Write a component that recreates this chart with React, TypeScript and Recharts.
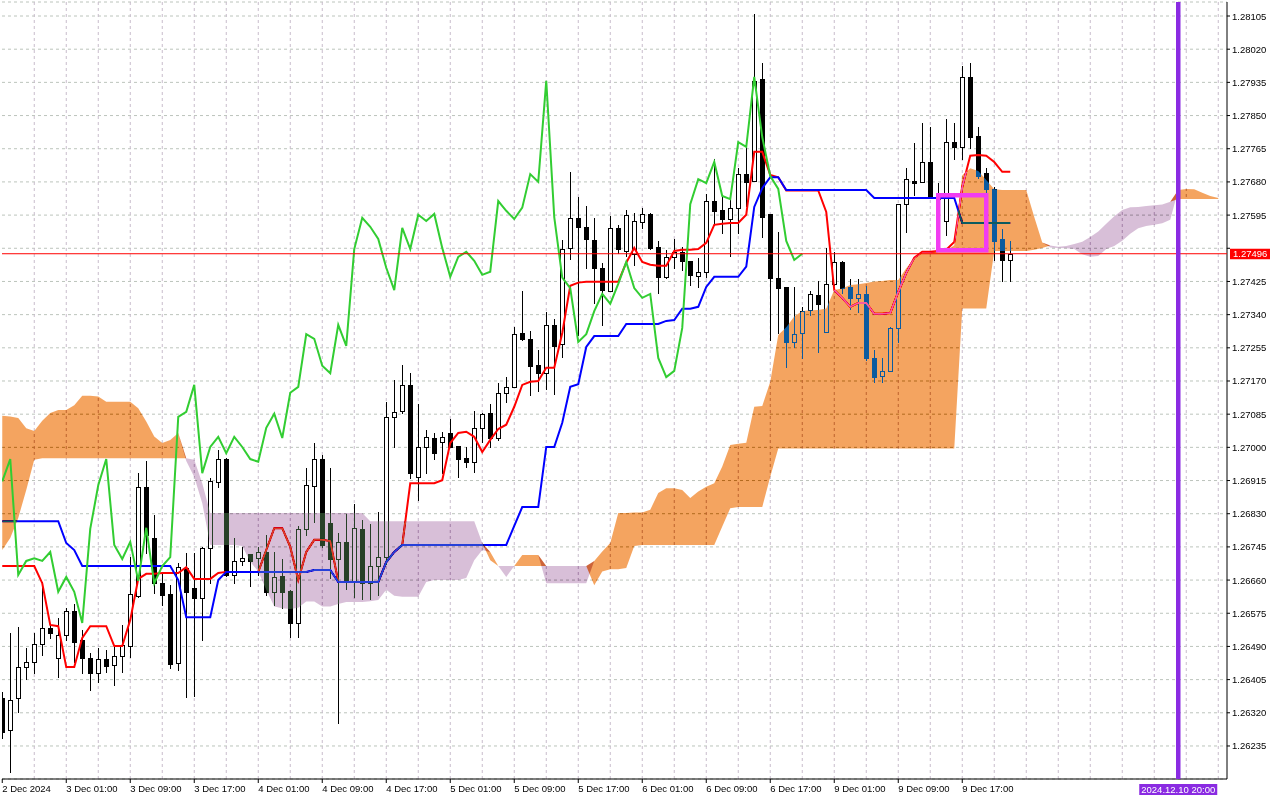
import React from 'react';
import {
  ComposedChart,
  Bar,
  Line,
  Area,
  XAxis,
  YAxis,
  CartesianGrid,
  ReferenceLine,
  ReferenceArea,
} from 'recharts';

const FONT = '"Liberation Sans", Arial, sans-serif';

// ---- time axis ----
const timeTicks = [0, 8, 16, 24, 32, 40, 48, 56, 64, 72, 80, 88, 96, 104, 112, 120];
const timeLabels = [
  '2 Dec 2024', '3 Dec 01:00', '3 Dec 09:00', '3 Dec 17:00', '4 Dec 01:00', '4 Dec 09:00',
  '4 Dec 17:00', '5 Dec 01:00', '5 Dec 09:00', '5 Dec 17:00', '6 Dec 01:00', '6 Dec 09:00',
  '6 Dec 17:00', '9 Dec 01:00', '9 Dec 09:00', '9 Dec 17:00',
];
const gridBars = [
  4, 8, 12, 16, 20, 24, 28, 32, 36, 40, 44, 48, 52, 56, 60, 64, 68, 72, 76, 80, 84, 88, 92, 96,
  100, 104, 108, 112, 116, 120, 124, 128, 132, 136, 140, 144, 148, 152,
];
const priceTicks = [
  1.26235, 1.2632, 1.26405, 1.2649, 1.26575, 1.2666, 1.26745, 1.2683, 1.26915, 1.27, 1.27085,
  1.2717, 1.27255, 1.2734, 1.27425, 1.2751, 1.27595, 1.2768, 1.27765, 1.2785, 1.27935, 1.2802,
  1.28105,
];
const HIDDEN_PRICE_LABEL = 1.2751;
const BID = 1.27496;
const CURSOR_BAR = 147;
const CURSOR_LABEL = '2024.12.10 20:00';
const BOX_BARS = [117, 123];
const BOX_PRICES = [1.27505, 1.27646];

// ---- candles (H1, bar 0 = 2 Dec 17:00) ----
const opens = [
  1.26358, 1.26276, 1.26358, 1.26437, 1.2645, 1.26496, 1.26538, 1.26461, 1.26519, 1.2658,
  1.26506, 1.26461, 1.26422, 1.26458, 1.26442, 1.26466, 1.26491, 1.2662, 1.26898, 1.26768,
  1.26652, 1.26625, 1.26448, 1.26691, 1.2664, 1.26614, 1.26743, 1.26911, 1.2697, 1.26673,
  1.26709, 1.26727, 1.26716, 1.26732, 1.2663, 1.2667, 1.26632, 1.2655, 1.26791, 1.26901,
  1.2697, 1.26806, 1.26714, 1.26758, 1.26658, 1.26791, 1.26652, 1.26696, 1.26719, 1.27078,
  1.27093, 1.2716, 1.26924, 1.27001, 1.27024, 1.27014, 1.27037, 1.27004, 1.26973, 1.26963,
  1.2705, 1.27088, 1.27024, 1.2714, 1.27155, 1.27293, 1.27278, 1.27211, 1.2719, 1.27314,
  1.27265, 1.27511, 1.27588, 1.27565, 1.27531, 1.2746, 1.27401, 1.27562, 1.27503, 1.27496,
  1.27578, 1.27598, 1.27514, 1.27437, 1.27488, 1.27501, 1.27478, 1.2744, 1.2745, 1.27631,
  1.27608, 1.27585, 1.27614, 1.277, 1.27682, 1.27944, 1.27598, 1.27435, 1.27411, 1.2727,
  1.27293, 1.27352, 1.27391, 1.27296, 1.27419, 1.27475, 1.27411, 1.27383, 1.27393, 1.27229,
  1.27183, 1.27196, 1.27306, 1.27623, 1.27682, 1.2768, 1.27731, 1.27644, 1.2758, 1.27782,
  1.2777, 1.27949, 1.27798, 1.27703, 1.27662, 1.27534, 1.2748,
];
const highs = [
  1.26373, 1.26524, 1.2654, 1.26486, 1.26524, 1.26655, 1.26545, 1.26563, 1.26589, 1.26599,
  1.26532, 1.26473, 1.26486, 1.26481, 1.26493, 1.26545, 1.26719, 1.26934, 1.26965, 1.26827,
  1.26681, 1.26647, 1.26703, 1.26729, 1.26729, 1.26745, 1.26922, 1.26993, 1.26973, 1.26768,
  1.26745, 1.26727, 1.26745, 1.26775, 1.26732, 1.26714, 1.26635, 1.26799, 1.26947, 1.27011,
  1.2698, 1.26947, 1.26781, 1.2683, 1.26855, 1.26814, 1.26804, 1.26835, 1.27116, 1.27173,
  1.27211, 1.2719, 1.27111, 1.27045, 1.27037, 1.2704, 1.27073, 1.27004, 1.27001, 1.27093,
  1.27088, 1.27111, 1.27165, 1.2718, 1.27308, 1.27401, 1.27298, 1.2725, 1.27347, 1.27329,
  1.27531, 1.27706, 1.27642, 1.27618, 1.27588, 1.27473, 1.27593, 1.2757, 1.27608, 1.27601,
  1.27613, 1.27601, 1.27529, 1.27506, 1.27534, 1.27514, 1.27478, 1.27485, 1.27649, 1.27739,
  1.27642, 1.27642, 1.27716, 1.2777, 1.2811, 1.27985, 1.27598, 1.27552, 1.27411, 1.27411,
  1.2736, 1.27401, 1.27427, 1.27511, 1.27501, 1.27478, 1.27432, 1.27432, 1.27414, 1.2725,
  1.27229, 1.27308, 1.27623, 1.27716, 1.2778, 1.27831, 1.27821, 1.27677, 1.27841, 1.27831,
  1.27977, 1.27985, 1.27821, 1.27716, 1.27667, 1.2756, 1.27529,
];
const lows = [
  1.26256, 1.26168, 1.26322, 1.26407, 1.26422, 1.26468, 1.26512, 1.26412, 1.26506, 1.2645,
  1.26422, 1.26378, 1.26399, 1.26425, 1.26391, 1.26425, 1.26463, 1.26617, 1.26729, 1.26627,
  1.26596, 1.26435, 1.2643, 1.2636, 1.26363, 1.26506, 1.26652, 1.26898, 1.2667, 1.26652,
  1.26698, 1.26645, 1.26673, 1.26622, 1.26596, 1.26589, 1.26514, 1.26514, 1.26775, 1.26809,
  1.26745, 1.26665, 1.26294, 1.26637, 1.26617, 1.26612, 1.26612, 1.26622, 1.267, 1.27001,
  1.27088, 1.26922, 1.26865, 1.26934, 1.2697, 1.26934, 1.27001, 1.26924, 1.2695, 1.26937,
  1.27014, 1.27001, 1.27019, 1.27116, 1.27155, 1.27275, 1.27134, 1.27145, 1.2715, 1.27137,
  1.27232, 1.27483, 1.27288, 1.2746, 1.2737, 1.27314, 1.27401, 1.27498, 1.27491, 1.27468,
  1.27562, 1.27508, 1.27396, 1.27435, 1.2746, 1.27455, 1.27416, 1.27411, 1.27437, 1.2757,
  1.27549, 1.27491, 1.27549, 1.27618, 1.27682, 1.27539, 1.27275, 1.27293, 1.27206, 1.27257,
  1.27229, 1.27339, 1.27245, 1.27296, 1.27416, 1.27396, 1.27355, 1.27347, 1.27224, 1.27168,
  1.27168, 1.27196, 1.2727, 1.27552, 1.27646, 1.2768, 1.27644, 1.27618, 1.27544, 1.27739,
  1.27739, 1.27767, 1.2769, 1.27654, 1.2748, 1.27427, 1.27427,
];
const closes = [
  1.26271, 1.26353, 1.26437, 1.2645, 1.26496, 1.26538, 1.26524, 1.26519, 1.2658, 1.26501,
  1.26461, 1.26422, 1.26458, 1.2644, 1.26466, 1.26493, 1.26625, 1.26898, 1.26775, 1.26652,
  1.26622, 1.26445, 1.26693, 1.2663, 1.26614, 1.26743, 1.26913, 1.2697, 1.26673, 1.26709,
  1.26716, 1.26709, 1.26732, 1.2663, 1.26668, 1.2663, 1.2655, 1.26791, 1.26903, 1.2697,
  1.2675, 1.26714, 1.26758, 1.26658, 1.26794, 1.26652, 1.26696, 1.26719, 1.27078, 1.27091,
  1.2716, 1.26934, 1.27001, 1.27027, 1.26985, 1.27027, 1.27001, 1.2697, 1.26963, 1.2705,
  1.27086, 1.27024, 1.2714, 1.27155, 1.2729, 1.27278, 1.27209, 1.2719, 1.27314, 1.2726,
  1.27508, 1.27588, 1.27565, 1.27534, 1.2746, 1.27403, 1.27562, 1.27508, 1.27596, 1.2758,
  1.27598, 1.27511, 1.27437, 1.27488, 1.27501, 1.27478, 1.27442, 1.2745, 1.27631, 1.27606,
  1.27585, 1.27614, 1.277, 1.2768, 1.27939, 1.2759, 1.27435, 1.27408, 1.2727, 1.2729,
  1.27349, 1.27393, 1.27368, 1.27419, 1.27475, 1.27408, 1.27383, 1.27393, 1.27229, 1.2718,
  1.27196, 1.27306, 1.27623, 1.27687, 1.27677, 1.27731, 1.27644, 1.27636, 1.27782, 1.2777,
  1.27949, 1.27795, 1.27695, 1.27662, 1.27529, 1.2748, 1.27496,
];

// ---- Ichimoku lines ----
const tenkan = [
  1.26696, 1.26696, 1.26696, 1.26696, 1.26696, 1.26652, 1.26545, 1.26542, 1.26437, 1.26437,
  1.26512, 1.26542, 1.26542, 1.26542, 1.26491, 1.26491, 1.26558, 1.26663, 1.26676, 1.26676,
  1.26678, 1.26678, 1.26678, 1.26693, 1.26663, 1.26663, 1.26663, 1.26678, 1.26681, 1.26681,
  1.26681, 1.26681, 1.26681, 1.26737, 1.26793, 1.26793, 1.26745, 1.2666, 1.26732, 1.26763,
  1.26763, 1.2676, 1.26656, 1.26655, 1.26655, 1.26655, 1.26655, 1.26655, 1.26706, 1.26732,
  1.2675, 1.26908, 1.26908, 1.26908, 1.26908, 1.26916, 1.27011, 1.27037, 1.2704, 1.27027,
  1.26988, 1.27019, 1.27047, 1.27058, 1.27104, 1.2716, 1.27168, 1.2717, 1.27204, 1.27204,
  1.27293, 1.27414, 1.27422, 1.27424, 1.27424, 1.27424, 1.27424, 1.27424, 1.27473, 1.27511,
  1.27475, 1.27468, 1.27465, 1.27465, 1.27503, 1.27506, 1.27506, 1.27508, 1.27524, 1.2757,
  1.27573, 1.27575, 1.27575, 1.27596, 1.27757, 1.27757, 1.27698, 1.27692, 1.27658, 1.27658,
  1.27658, 1.27658, 1.27658, 1.27603, 1.27403, 1.27383, 1.2736, 1.2737, 1.2737, 1.27342,
  1.27342, 1.27344, 1.27398, 1.27447, 1.27486, 1.27501, 1.27501, 1.27503, 1.27506, 1.27526,
  1.27667, 1.27747, 1.27749, 1.27747, 1.27731, 1.27706, 1.27706,
];
const kijun = [
  1.26811, 1.26811, 1.26811, 1.26811, 1.26811, 1.26811, 1.26811, 1.26811, 1.26755, 1.26737,
  1.26696, 1.26696, 1.26696, 1.26696, 1.26696, 1.26696, 1.26696, 1.26696, 1.26696, 1.26696,
  1.26696, 1.26696, 1.2666, 1.26565, 1.26565, 1.26565, 1.26565, 1.2666, 1.26681, 1.26681,
  1.26681, 1.26681, 1.26681, 1.26681, 1.26681, 1.26681, 1.26681, 1.26681, 1.26681, 1.26686,
  1.26686, 1.26686, 1.26655, 1.26655, 1.26655, 1.26655, 1.26655, 1.26655, 1.26706, 1.26732,
  1.2675, 1.2675, 1.2675, 1.2675, 1.2675, 1.2675, 1.2675, 1.2675, 1.2675, 1.2675,
  1.2675, 1.2675, 1.2675, 1.2675, 1.26799, 1.26847, 1.26847, 1.26847, 1.27001, 1.27001,
  1.27063, 1.27155, 1.27162, 1.27257, 1.27285, 1.27285, 1.27285, 1.27285, 1.27316, 1.27316,
  1.27316, 1.27316, 1.27316, 1.27324, 1.27326, 1.27355, 1.27355, 1.2736, 1.27411, 1.27437,
  1.27437, 1.27437, 1.27437, 1.27463, 1.27616, 1.27664, 1.27692, 1.27692, 1.27659, 1.27659,
  1.27659, 1.27659, 1.27659, 1.27659, 1.27659, 1.27659, 1.27659, 1.27659, 1.27659, 1.27639,
  1.27639, 1.27639, 1.27639, 1.27639, 1.27639, 1.27639, 1.27639, 1.27639, 1.27639, 1.27639,
  1.27575, 1.27575, 1.27575, 1.27575, 1.27575, 1.27575, 1.27575,
];
const spanA = [
  1.27081, 1.27079, 1.27075, 1.27049, 1.27042, 1.27068, 1.27088, 1.27096, 1.27096, 1.27108,
  1.27132, 1.27132, 1.2713, 1.27117, 1.27117, 1.27117, 1.27117, 1.271, 1.27066, 1.27028,
  1.27011, 1.27019, 1.27037, 1.26965, 1.26924, 1.26857, 1.2675, 1.2675, 1.2675, 1.2675,
  1.26747, 1.26707, 1.26682, 1.26635, 1.26592, 1.26588, 1.26586, 1.26589, 1.26605, 1.26605,
  1.26592, 1.26592, 1.26599, 1.26604, 1.26604, 1.26604, 1.26606, 1.26609, 1.26635, 1.2662,
  1.26617, 1.26617, 1.26617, 1.26655, 1.2666, 1.2666, 1.2666, 1.2666, 1.26665, 1.26711,
  1.26737, 1.26732, 1.26696, 1.26668, 1.26696, 1.26724, 1.26724, 1.26724, 1.26652, 1.26652,
  1.26652, 1.26652, 1.26652, 1.26652, 1.26709, 1.26733, 1.26755, 1.26832, 1.26832, 1.26833,
  1.26833, 1.2684, 1.26883, 1.26895, 1.26895, 1.26891, 1.2687, 1.26887, 1.26899, 1.26908,
  1.26951, 1.27006, 1.27009, 1.27012, 1.27104, 1.27106, 1.27168, 1.27288, 1.27308, 1.27335,
  1.27349, 1.27351, 1.27352, 1.27356, 1.27403, 1.27407, 1.27416, 1.27418, 1.27421, 1.27425,
  1.27426, 1.27429, 1.27429, 1.27459, 1.27485, 1.27499, 1.275, 1.27502, 1.27503, 1.27518,
  1.27697, 1.27715, 1.27708, 1.27685, 1.27661, 1.27659, 1.27659, 1.27659, 1.27659, 1.2759,
  1.27525, 1.27512, 1.27511, 1.2751, 1.27508, 1.27495, 1.27488, 1.2749, 1.27508, 1.27516,
  1.27529, 1.27547, 1.27561, 1.27567, 1.2757, 1.27574, 1.27583, 1.27659, 1.27662, 1.27661,
  1.27652, 1.27644, 1.27639,
];
const spanB = [
  1.26737, 1.26768, 1.26819, 1.26891, 1.26968, 1.26972, 1.26972, 1.26972, 1.26972, 1.26972,
  1.26972, 1.26972, 1.26972, 1.26972, 1.26972, 1.26972, 1.26972, 1.26972, 1.26972, 1.26972,
  1.26972, 1.26972, 1.26972, 1.26972, 1.26968, 1.26908, 1.26832, 1.26832, 1.26832, 1.26832,
  1.26832, 1.26832, 1.26832, 1.26832, 1.26832, 1.26832, 1.26832, 1.26832, 1.26832, 1.26832,
  1.26832, 1.26832, 1.26832, 1.26832, 1.26832, 1.26832, 1.26811, 1.26811, 1.26811, 1.26811,
  1.26811, 1.26811, 1.26811, 1.26811, 1.26811, 1.26811, 1.26811, 1.26811, 1.26811, 1.26811,
  1.26755, 1.26711, 1.26696, 1.26696, 1.26696, 1.26696, 1.26696, 1.26696, 1.26696, 1.26696,
  1.26696, 1.26696, 1.26696, 1.26696, 1.26647, 1.26682, 1.26688, 1.26688, 1.26691, 1.26747,
  1.2675, 1.2675, 1.2675, 1.2675, 1.2675, 1.2675, 1.2675, 1.2675, 1.2675, 1.2675,
  1.26797, 1.26844, 1.26847, 1.26847, 1.26847, 1.26847, 1.26925, 1.26997, 1.26997, 1.26997,
  1.26997, 1.26997, 1.26997, 1.26997, 1.26997, 1.26997, 1.26997, 1.26997, 1.26997, 1.26997,
  1.26997, 1.26997, 1.26997, 1.26997, 1.26997, 1.26997, 1.26997, 1.26997, 1.26997, 1.26997,
  1.27356, 1.27356, 1.27356, 1.27356, 1.27503, 1.27503, 1.27503, 1.27503, 1.27503, 1.27506,
  1.27511, 1.27517, 1.27514, 1.27516, 1.27521, 1.27527, 1.27539, 1.27553, 1.27573, 1.27592,
  1.27608, 1.27615, 1.27616, 1.27618, 1.2762, 1.27622, 1.27629, 1.27636, 1.27636, 1.27636,
  1.27636, 1.27636, 1.27636,
];
const CHIKOU_SHIFT = 26;

// table built from the arrays
const chartData = spanA.map((a, i) => {
  const b = spanB[i];
  const top = Math.max(a, b);
  const has = i < opens.length;
  const ci = i + CHIKOU_SHIFT;
  return {
    i,
    o: has ? opens[i] : null,
    h: has ? highs[i] : null,
    l: has ? lows[i] : null,
    c: has ? closes[i] : null,
    candle: has ? [lows[i], highs[i]] : null,
    tenkan: has ? tenkan[i] : null,
    kijun: has ? kijun[i] : null,
    chikou: ci < closes.length ? closes[ci] : null,
    bull: [b, top],
    bear: [a, top],
  };
});

function Candle(props: any) {
  const { x, y, width, height, payload } = props;
  if (!payload || payload.o == null || x == null || y == null || isNaN(x) || isNaN(y)) return null;
  const { o, h, l, c } = payload;
  const cx = Math.round(x + width / 2);
  const span = h - l;
  const toY = (v: number) => (span > 0 ? y + ((h - v) / span) * height : y);
  const top = Math.round(toY(Math.max(o, c)));
  let bot = Math.round(toY(Math.min(o, c)));
  if (bot - top < 1) bot = top + 1;
  const up = c > o;
  return (
    <g>
      <line
        x1={cx + 0.5}
        x2={cx + 0.5}
        y1={Math.round(y)}
        y2={Math.round(y + height) + 1}
        stroke="#000"
        strokeWidth={1}
        shapeRendering="crispEdges"
      />
      <rect
        x={cx - 1.5}
        y={top + 0.5}
        width={4}
        height={bot - top}
        fill={up ? '#ffffff' : '#000000'}
        stroke="#000"
        strokeWidth={1}
        shapeRendering="crispEdges"
      />
    </g>
  );
}

function TimeTick(props: any) {
  const { x, y, payload } = props;
  const k = timeTicks.indexOf(payload.value);
  if (k < 0) return null;
  return (
    <text x={x} y={y + 7} fontSize={9.5} fontFamily={FONT} fill="#000" textAnchor="start">
      {timeLabels[k]}
    </text>
  );
}

function PriceTick(props: any) {
  const { x, y, payload } = props;
  if (Math.abs(payload.value - HIDDEN_PRICE_LABEL) < 1e-7) return null;
  return (
    <text x={x} y={y + 3.5} fontSize={9.5} fontFamily={FONT} fill="#000" textAnchor="start">
      {Number(payload.value).toFixed(5)}
    </text>
  );
}

function BidBox(props: any) {
  const vb = props.viewBox || {};
  if (vb.x == null) return null;
  const right = vb.x + vb.width;
  const y = vb.y;
  return (
    <g>
      <rect x={right + 3} y={y - 5} width={40} height={10.5} fill="#ff0000" />
      <text x={right + 6} y={y + 3.5} fontSize={9.5} fontFamily={FONT} fill="#ffffff">
        {BID.toFixed(5)}
      </text>
    </g>
  );
}

function TimeBox(props: any) {
  const vb = props.viewBox || {};
  if (vb.x == null) return null;
  const cx = vb.x;
  const bottom = vb.y + vb.height;
  return (
    <g>
      <rect x={cx - 39} y={bottom + 5} width={78} height={11} fill="#8a2be2" />
      <text x={cx} y={bottom + 14} fontSize={9.5} fontFamily={FONT} fill="#ffffff" textAnchor="middle">
        {CURSOR_LABEL}
      </text>
    </g>
  );
}

export default function App() {
  return (
    <div style={{ position: 'absolute', left: 0, top: 0, width: 1280, height: 800, background: '#ffffff' }}>
      <style>{'.cloud-blend{mix-blend-mode:difference;}'}</style>
      <ComposedChart width={1280} height={800} data={chartData} margin={{ top: 2, right: 0, bottom: 0, left: 2 }}>
        <CartesianGrid
          vertical={false}
          stroke="#bcc4bc"
          strokeDasharray="3 3"
          fill="#ffffff"
          fillOpacity={1}
        />
        {gridBars.map((b) => (
          <ReferenceLine key={'g' + b} x={b} stroke="#c8bccb" strokeDasharray="3 3" zIndex={-90} />
        ))}
        <Bar
          dataKey="candle"
          barSize={5}
          shape={(p: any) => <Candle {...p} />}
          isAnimationActive={false}
          zIndex={300}
        />
        <Line
          dataKey="tenkan"
          type="linear"
          stroke="#ff0000"
          strokeWidth={2}
          dot={false}
          activeDot={false}
          isAnimationActive={false}
          zIndex={310}
        />
        <Line
          dataKey="kijun"
          type="linear"
          stroke="#0000ff"
          strokeWidth={2}
          dot={false}
          activeDot={false}
          isAnimationActive={false}
          zIndex={320}
        />
        <Area
          dataKey="bull"
          type="linear"
          className="cloud-blend"
          fill="#0b5b9f"
          fillOpacity={1}
          stroke="none"
          dot={false}
          activeDot={false}
          isAnimationActive={false}
          zIndex={330}
        />
        <Area
          dataKey="bear"
          type="linear"
          className="cloud-blend"
          fill="#274027"
          fillOpacity={1}
          stroke="none"
          dot={false}
          activeDot={false}
          isAnimationActive={false}
          zIndex={331}
        />
        <Line
          dataKey="chikou"
          type="linear"
          stroke="#32cd32"
          strokeWidth={2}
          dot={false}
          activeDot={false}
          isAnimationActive={false}
          zIndex={340}
        />
        <ReferenceLine y={BID} stroke="#ff0000" strokeWidth={1} ifOverflow="visible" label={<BidBox />} zIndex={600} />
        <ReferenceArea
          x1={BOX_BARS[0]}
          x2={BOX_BARS[1]}
          y1={BOX_PRICES[0]}
          y2={BOX_PRICES[1]}
          fill="none"
          fillOpacity={0}
          stroke="#f23cf2"
          strokeWidth={4.5}
          ifOverflow="visible"
          zIndex={610}
        />
        <ReferenceLine x={CURSOR_BAR} stroke="#8a2be2" strokeWidth={4.5} ifOverflow="visible" label={<TimeBox />} zIndex={620} />
        <XAxis
          dataKey="i"
          type="number"
          domain={[-0.03125, 153.09375]}
          allowDataOverflow
          ticks={timeTicks}
          interval={0}
          height={21}
          tickSize={4}
          tickMargin={2}
          axisLine={{ stroke: '#000' }}
          tickLine={{ stroke: '#000' }}
          tick={<TimeTick />}
        />
        <YAxis
          orientation="right"
          type="number"
          domain={[1.261504, 1.281409]}
          allowDataOverflow
          ticks={priceTicks}
          interval={0}
          width={53}
          tickSize={3}
          tickMargin={2}
          axisLine={{ stroke: '#000' }}
          tickLine={{ stroke: '#000' }}
          tick={<PriceTick />}
        />
        <YAxis
          yAxisId="l"
          orientation="left"
          width={0}
          domain={[0, 1]}
          tick={false}
          tickLine={false}
          axisLine={{ stroke: '#000' }}
        />
      </ComposedChart>
    </div>
  );
}
